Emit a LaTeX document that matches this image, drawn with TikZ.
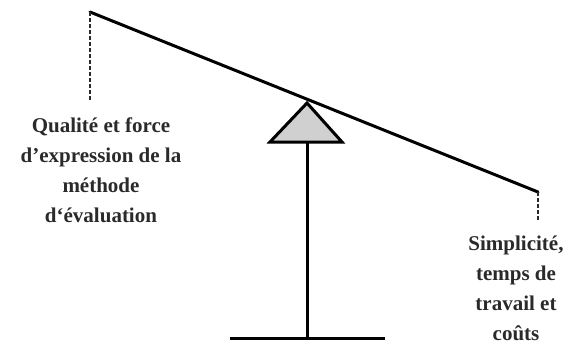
\documentclass[tikz,border=0pt]{standalone}
\usepackage{fontspec}
\setmainfont{Liberation Serif}
\usepackage{tikz}
\usetikzlibrary{positioning}
\definecolor{pivotgray}{HTML}{D0D0D0}
\definecolor{labelgray}{HTML}{2A2A2A}

\begin{document}
\begin{tikzpicture}[
    x=1pt, y=-1pt,
    beam/.style={line width=3pt, line cap=round},
    post/.style={line width=3pt},
    drop/.style={line width=1.5pt, dash pattern=on 4pt off 2pt, labelgray},
    side/.style={font=\fontsize{21}{30}\selectfont\bfseries, text=labelgray,
                 align=center, inner sep=0pt},
]
\useasboundingbox (0,0) rectangle (588,345);

% Tilted beam
\coordinate (beamL) at (90,12);
\coordinate (beamR) at (538,192);

% Pivot and stand
\coordinate (apex) at (307,103);
\coordinate (baseL) at (270,142);
\coordinate (baseR) at (342,142);
\coordinate (foot) at (307,338);
\coordinate (floorL) at (230,338);
\coordinate (floorR) at (385,338);

\draw[post] (307,142) -- (foot);
\draw[post] (floorL) -- (floorR);
\draw[post, fill=pivotgray, line join=miter] (apex) -- (baseL) -- (baseR) -- cycle;
\draw[beam] (beamL) -- (beamR);

% Labels at both ends
\node[side] (quality) at (101,170)
  {Qualité et force\\d’expression de la\\méthode\\d‘évaluation};
\node[side] (cost) at (516,288)
  {Simplicité,\\temps de\\travail et\\coûts};

\draw[drop] (beamL) -- (90,100);
\draw[drop] (beamR) -- (538,220);

\end{tikzpicture}
\end{document}
